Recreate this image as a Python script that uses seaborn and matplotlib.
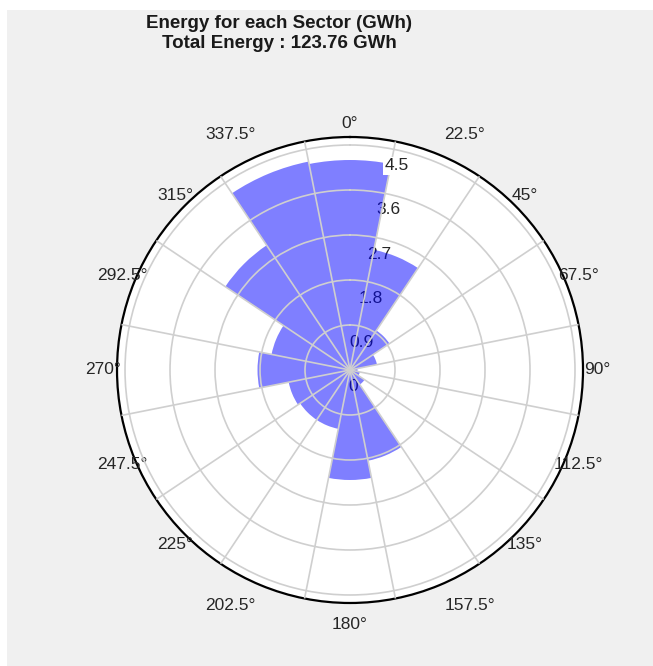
import numpy as np
import matplotlib
matplotlib.use("Agg")
import matplotlib.pyplot as plt
from matplotlib.patches import Rectangle
import seaborn as sns

# sector centres (deg, clockwise from north) and energy per sector (GWh)
sector_deg = [0, 22.5, 45, 67.5, 90, 112.5, 135, 157.5,
              180, 202.5, 225, 247.5, 270, 292.5, 315, 337.5]
energy = [4.2, 2.45, 0.95, 0.55, 0.15, 0.2, 0.35, 1.85,
          2.2, 1.2, 1.2, 1.25, 1.85, 1.6, 3.0, 4.25]
theta_labels = [f"{d:g}\u00b0" for d in sector_deg]
r_ticks = [0, 0.9, 1.8, 2.7, 3.6, 4.5]
r_labels = ["0", "0.9", "1.8", "2.7", "3.6", "4.5"]
title = "Energy for each Sector (GWh)\nTotal Energy : 123.76 GWh"

sns.set_theme(style="white")
plt.rcParams['font.family'] = ['Liberation Sans', 'DejaVu Sans']

fig = plt.figure(figsize=(6.53, 6.66), dpi=100, facecolor="white")
fig.add_artist(Rectangle((7 / 653, 0), 1, 1 - 10 / 666, transform=fig.transFigure,
                         facecolor="#F0F0F0", edgecolor="none", zorder=-5))

ax = fig.add_axes([0.1792, 0.0946, 0.7136, 0.6997], projection="polar")
ax.set_theta_zero_location("N")
ax.set_theta_direction(-1)
ax.set_facecolor("white")

theta = np.deg2rad(sector_deg)
sns.barplot(x=theta, y=energy, native_scale=True, orient="x", width=1.0,
            color="blue", alpha=0.5, saturation=1, linewidth=0,
            errorbar=None, ax=ax)
ax.set_xlabel("")
ax.set_ylabel("")

# angle labels on the sectors, spokes on the sector edges
ax.set_xticks(theta)
ax.set_xticklabels(theta_labels, fontsize=12.5, color="#262626")
ax.set_xticks(theta + np.pi / 16, minor=True)
ax.xaxis.grid(False, which="major")
ax.xaxis.grid(True, which="minor", color="#CFCFCF", linewidth=1.2)
ax.tick_params(axis="x", which="both", length=0, pad=3)

# MATLAB-like alignment of the wider labels near the poles
align = {22.5: ("left", "bottom"), 337.5: ("right", "bottom"),
         157.5: ("left", "top"), 202.5: ("right", "top"),
         180: ("center", "top")}
for d, tick in zip(sector_deg, ax.xaxis.get_major_ticks()):
    if d in align:
        tick.label1.set_ha(align[d][0])
        tick.label1.set_va(align[d][1])

ax.set_ylim(0, 4.66)
ax.set_yticks(r_ticks[1:])
ax.set_yticklabels([])
ax.yaxis.grid(True, color="#CFCFCF", linewidth=1.2)
ax.tick_params(axis="y", length=0)
ax.set_axisbelow(False)

ax.spines["polar"].set_color("black")
ax.spines["polar"].set_linewidth(1.6)

# radial labels sit under the translucent bars
for r, lab in zip(r_ticks, r_labels):
    top = lab == "4.5"
    ax.annotate(lab, xy=(np.deg2rad(11.25), r), xytext=(3, -9),
                textcoords="offset pixels", ha="center", va="top",
                fontsize=12.5, color="#262626", zorder=3 if top else 0.8,
                bbox=dict(facecolor="white", edgecolor="none", pad=1) if top else None)

fig.text(279 / 653, 1 - 15 / 666, title, ha="center", va="top",
         fontsize=13.5, fontweight="bold", color="#1a1a1a", linespacing=1.2)

fig.savefig("out.png", dpi=100, facecolor=fig.get_facecolor())
